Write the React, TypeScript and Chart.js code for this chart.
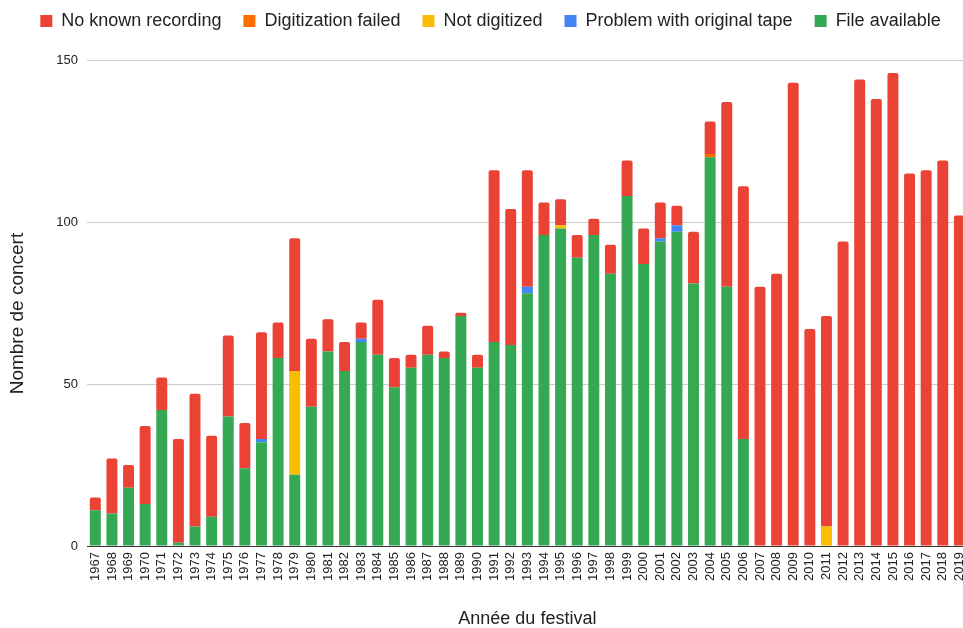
import React, { useEffect, useRef } from "react";
import { Chart, registerables } from "chart.js";

Chart.register(...registerables);

const years: string[] = [
  "1967","1968","1969","1970","1971","1972","1973","1974","1975","1976",
  "1977","1978","1979","1980","1981","1982","1983","1984","1985","1986",
  "1987","1988","1989","1990","1991","1992","1993","1994","1995","1996",
  "1997","1998","1999","2000","2001","2002","2003","2004","2005","2006",
  "2007","2008","2009","2010","2011","2012","2013","2014","2015","2016",
  "2017","2018","2019",
];

const fileAvailable: number[] = [
  11,10,18,13,42,1,6,9,40,24,
  32,58,22,43,60,54,63,59,49,55,
  59,58,71,55,63,62,78,96,98,89,
  96,84,108,87,94,97,81,120,80,33,
  0,0,0,0,0,0,0,0,0,0,
  0,0,0,
];

const problemWithTape: number[] = [
  0,0,0,0,0,0,0,0,0,0,
  1,0,0,0,0,0,1,0,0,0,
  0,0,0,0,0,0,2,0,0,0,
  0,0,0,0,1,2,0,0,0,0,
  0,0,0,0,0,0,0,0,0,0,
  0,0,0,
];

const notDigitized: number[] = [
  0,0,0,0,0,0,0,0,0,0,
  0,0,32,0,0,0,0,0,0,0,
  0,0,0,0,0,0,0,0,1,0,
  0,0,0,0,0,0,0,0,0,0,
  0,0,0,0,6,0,0,0,0,0,
  0,0,0,
];

const digitizationFailed: number[] = [
  0,0,0,0,0,0,0,0,0,0,
  0,0,0,0,0,0,0,0,0,0,
  0,0,0,0,0,0,0,0,0,0,
  0,0,0,0,0,0,0,1,0,0,
  0,0,0,0,0,0,0,0,0,0,
  0,0,0,
];

const noKnownRecording: number[] = [
  4,17,7,24,10,32,41,25,25,14,
  33,11,41,21,10,9,5,17,9,4,
  9,2,1,4,53,42,36,10,8,7,
  5,9,11,11,11,6,16,10,57,78,
  80,84,143,67,65,94,144,138,146,115,
  116,119,102,
];

const yTicks: number[] = [0, 50, 100, 150];

const FONT = "'Liberation Sans', Arial, Helvetica, sans-serif";

const legendSpacer = {
  id: "legendSpacer",
  beforeInit(chart: any) {
    const legend = chart.legend;
    if (!legend) return;
    const origFit = legend.fit.bind(legend);
    legend.fit = function () {
      origFit();
      this.height += 20;
    };
  },
};

export default function App() {
  const ref = useRef<HTMLCanvasElement | null>(null);

  useEffect(() => {
    if (!ref.current) return;
    Chart.defaults.font.family = FONT;
    const chart = new Chart(ref.current, {
      type: "bar",
      data: {
        labels: years,
        datasets: [
          { label: "File available", data: fileAvailable, backgroundColor: "#34a853" },
          { label: "Problem with original tape", data: problemWithTape, backgroundColor: "#4285f4" },
          { label: "Not digitized", data: notDigitized, backgroundColor: "#fbbc04" },
          { label: "Digitization failed", data: digitizationFailed, backgroundColor: "#ff6d01" },
          { label: "No known recording", data: noKnownRecording, backgroundColor: "#ea4335" },
        ].map((d) => ({
          ...d,
          borderWidth: 0,
          borderRadius: 2,
          barPercentage: 0.66,
          categoryPercentage: 1,
        })),
      },
      plugins: [legendSpacer],
      options: {
        responsive: false,
        animation: false,
        layout: { padding: { top: -10, left: 0, right: 0, bottom: 0 } },
        plugins: {
          tooltip: { enabled: false },
          legend: {
            position: "top",
            reverse: true,
            labels: {
              boxWidth: 12,
              boxHeight: 12,
              padding: 22,
              color: "#222",
              font: { size: 18, family: FONT },
            },
          },
        },
        scales: {
          x: {
            stacked: true,
            grid: { display: false, drawTicks: false },
            border: { display: true, color: "#333", width: 1 },
            ticks: {
              autoSkip: false,
              minRotation: 90,
              maxRotation: 90,
              padding: 6,
              color: "#222",
              font: { size: 13, family: FONT },
            },
            title: {
              display: true,
              text: "Année du festival",
              color: "#222",
              font: { size: 18, family: FONT, lineHeight: 1 },
              padding: { top: 0, bottom: 0 },
            },
            afterFit: (s: any) => {
              s.height = 82;
            },
          },
          y: {
            stacked: true,
            min: 0,
            max: 150,
            grid: { color: "#cccccc", drawTicks: false },
            border: { display: false },
            afterBuildTicks: (s: any) => {
              s.ticks = yTicks.map((v) => ({ value: v }));
            },
            ticks: {
              padding: 9,
              color: "#222",
              font: { size: 13, family: FONT },
            },
            title: {
              display: true,
              text: "Nombre de concert    ",
              color: "#222",
              font: { size: 19, family: FONT, lineHeight: 1.2 },
              padding: { top: 6, bottom: 0 },
            },
            afterFit: (s: any) => {
              s.width = 87;
            },
          },
        },
      },
    });
    return () => chart.destroy();
  }, []);

  return (
    <div
      style={{
        position: "fixed",
        left: 0,
        top: 0,
        width: 963,
        height: 628,
        overflow: "hidden",
        background: "#fff",
      }}
    >
      <canvas ref={ref} width={981} height={628} style={{ display: "block", width: 981, height: 628 }} />
    </div>
  );
}
